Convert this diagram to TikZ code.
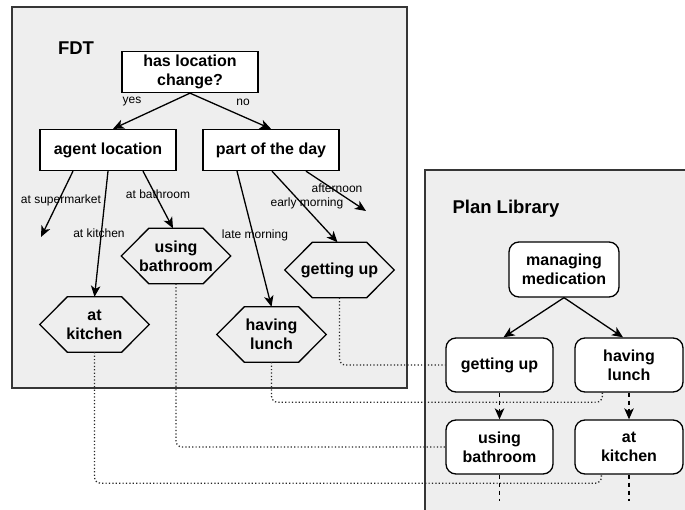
\documentclass[tikz,border=0pt]{standalone}
\usepackage{fontspec}
\setmainfont{Liberation Sans}
\usetikzlibrary{arrows.meta,calc}
\definecolor{panelgray}{HTML}{EEEEEE}
\definecolor{framegray}{HTML}{363636}
\begin{document}
\begin{tikzpicture}[x=1pt,y=-1pt,
  panel/.style={fill=panelgray,draw=framegray,line width=1.2pt},
  title/.style={font=\bfseries\fontsize{18.5}{22}\selectfont},
  dbox/.style={draw=black,fill=white,line width=1.3pt,minimum width=136pt,minimum height=41pt,inner sep=0pt,align=center,font=\bfseries\fontsize{16}{19}\selectfont},
  hexnode/.style={minimum width=109pt,minimum height=55pt,inner sep=0pt,align=center,font=\bfseries\fontsize{16}{19}\selectfont},
  plbox/.style={draw=black,fill=white,line width=1.3pt,rounded corners=10pt,minimum width=107pt,minimum height=54pt,inner sep=0pt,align=center,font=\bfseries\fontsize{16}{19}\selectfont},
  hexline/.style={draw=black,line width=1.3pt,line join=miter},
  lbl/.style={font=\fontsize{12}{14}\selectfont,inner sep=0pt},
  arr/.style={line width=1.3pt,-{Stealth[length=11pt,width=9.5pt,inset=3pt]}},
  darr/.style={line width=1.3pt,dash pattern=on 4pt off 4pt,-{Stealth[length=11pt,width=9.5pt,inset=3pt]}},
  dstub/.style={line width=1.3pt,dash pattern=on 4pt off 4pt},
  dotline/.style={line width=1.3pt,dash pattern=on 1.2pt off 2.2pt,draw=black!85,rounded corners=6pt}
]
\useasboundingbox (0,0) rectangle (685,510);
\clip (0,0) rectangle (685,510);
\fill[white] (0,0) rectangle (685,510);

% panels
\draw[panel] (12,7) rectangle (407,388);
\fill[panelgray] (425,170) rectangle (690,515);
\draw[draw=framegray,line width=1.2pt] (690,170) -- (425,170) -- (425,515);

% FDT
\node[title] (fdt) at (76,48) {FDT};
\node[dbox] (q) at (190,72) {has location\\change?};
\node[dbox] (al) at (108,150) {agent location};
\node[dbox] (pd) at (271,150) {part of the day};

\node[hexnode] (hb) at (176,256) {using\\bathroom};
\node[hexnode] (hk) at (94.5,324.5) {at\\kitchen};
\node[hexnode] (hl) at (271.5,334.5) {having\\lunch};
\node[hexnode] (hg) at (339.5,270) {getting up};

\foreach \n in {hb,hk,hl,hg}{
  \draw[hexline] (\n.west) -- ($(\n.north west)+(27.5,0)$) -- ($(\n.north east)+(-27.5,0)$) -- (\n.east) -- ($(\n.south east)+(-27.5,0)$) -- ($(\n.south west)+(27.5,0)$) -- cycle;
}

\coordinate (endsuper) at (41,237);
\coordinate (endafter) at (366,211);

\draw[arr] (q.south) -- ($(al.north)+(5,0)$);
\draw[arr] (q.south) -- (pd.north);
\node[lbl] (lyes) at (132,102) {yes};
\node[lbl] (lno) at (243,102) {no};

\draw[arr] ($(al.south)+(-35,0)$) -- (endsuper);
\draw[arr] (al.south) -- (hk.north);
\draw[arr] ($(al.south)+(35,0)$) -- ($(hb.north)+(-3,0)$);
\node[lbl] (lsup) at (61,200) {at supermarket};
\node[lbl] (lkit) at (99,233) {at kitchen};
\node[lbl] (lbath) at (158,194) {at bathroom};

\draw[arr] ($(pd.south)+(-34,0)$) -- (hl.north);
\draw[arr] ($(pd.south)+(1,0)$) -- ($(hg.north)+(-2,0)$);
\draw[arr] ($(pd.south)+(35,0)$) -- (endafter);
\node[lbl] (llate) at (255,235) {late morning};
\node[lbl] (learly) at (307,203) {early morning};
\node[lbl] (laft) at (337,188) {afternoon};

% Plan Library
\node[title] (pl) at (506,209) {Plan Library};
\node[plbox,minimum width=110pt,minimum height=55pt] (mm) at (564,269.5) {managing\\medication};
\node[plbox] (pg) at (499.5,365) {getting up};
\node[plbox,minimum width=108pt] (ph) at (629,365) {having\\lunch};
\node[plbox] (pb) at (499.5,447) {using\\bathroom};
\node[plbox,minimum width=108pt] (pk) at (629,447) {at\\kitchen};

\draw[arr] (mm.south) -- ($(pg.north)+(4,0)$);
\draw[arr] (mm.south) -- ($(ph.north)+(-6,0)$);
\draw[darr] (pg.south) -- (pb.north);
\draw[darr] (ph.south) -- (pk.north);
\coordinate (pbend) at (499.5,501);
\coordinate (pkend) at (629,501);
\draw[dstub] (pb.south) -- (pbend);
\draw[dstub] (pk.south) -- (pkend);

% dotted links
\draw[dotline] (hg.south) |- (pg.west);
\draw[dotline] (hl.south) -- ++(0,40) -| ($(ph.south west)+(28,0)$);
\draw[dotline] (hb.south) |- (pb.west);
\draw[dotline] (hk.south) -- ++(0,131) -| ($(pk.south west)+(27,0)$);
\end{tikzpicture}
\end{document}
